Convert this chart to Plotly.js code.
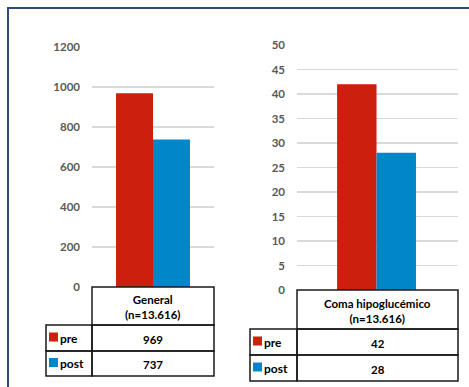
<!DOCTYPE html>
<html><head><meta charset="utf-8">
<script src="https://cdn.plot.ly/plotly-3.0.1.min.js"></script>
<style>body{margin:0;padding:0;background:#fff}#c{width:469px;height:387px}</style>
</head><body><div id="c"></div>
<script>
const series = ['pre', 'post'];
const categories1 = ['General<br>(n=13.616)'];
const pre1 = [969];
const post1 = [737];
const categories2 = ['Coma hipoglucémico<br>(n=13.616)'];
const pre2 = [42];
const post2 = [28];
const ticks1 = [0, 200, 400, 600, 800, 1000, 1200];
const ticks2 = [0, 5, 10, 15, 20, 25, 30, 35, 40, 45, 50];

const colors = {pre: '#CD1F0E', post: '#0086C9'};
const W = 469, H = 387;
const px = x => x / W, py = y => 1 - y / H;
const FONT = 'Lato, "Open Sans", sans-serif';

const w1 = 0.303, w2 = 0.245;
const traces = [
  {type: 'bar', x: categories1, y: pre1, name: series[0], width: w1, offset: -w1, marker: {color: colors.pre}, xaxis: 'x', yaxis: 'y', hoverinfo: 'none'},
  {type: 'bar', x: categories1, y: post1, name: series[1], width: w1, offset: 0, marker: {color: colors.post}, xaxis: 'x', yaxis: 'y', hoverinfo: 'none'},
  {type: 'bar', x: categories2, y: pre2, name: series[0], width: w2, offset: -w2 - 0.006, marker: {color: colors.pre}, xaxis: 'x2', yaxis: 'y2', hoverinfo: 'none'},
  {type: 'bar', x: categories2, y: post2, name: series[1], width: w2, offset: -0.006, marker: {color: colors.post}, xaxis: 'x2', yaxis: 'y2', hoverinfo: 'none'}
];

// table geometry (pixels)
const T1 = {l: 46, c: 92, r: 214, y0: 287, y1: 325, y2: 351, y3: 376};
const T2 = {l: 250, c: 297, r: 458, y0: 290, y1: 329, y2: 355, y3: 381};

const shapes = [];
const annotations = [];
function rectPx(x0, y0, x1, y1, extra) {
  return Object.assign({type: 'rect', xref: 'paper', yref: 'paper', x0: px(x0), x1: px(x1), y0: py(y0), y1: py(y1), line: {color: '#1a1a1a', width: 1.5}}, extra || {});
}
function table(T, cat, vPre, vPost) {
  shapes.push(rectPx(T.c, T.y0, T.r, T.y1));
  shapes.push(rectPx(T.l, T.y1, T.c, T.y2));
  shapes.push(rectPx(T.c, T.y1, T.r, T.y2));
  shapes.push(rectPx(T.l, T.y2, T.c, T.y3));
  shapes.push(rectPx(T.c, T.y2, T.r, T.y3));
  const k = 9;
  [[T.y1, T.y2, colors.pre, series[0]], [T.y2, T.y3, colors.post, series[1]]].forEach(([a, b, col, name]) => {
    const m = (a + b) / 2;
    shapes.push(rectPx(T.l + 3, m - k / 2 - 1, T.l + 3 + k, m + k / 2 - 1, {fillcolor: col, line: {width: 0}}));
    annotations.push({xref: 'paper', yref: 'paper', x: px(T.l + 3 + k), y: py(m), xanchor: 'left', yanchor: 'middle', showarrow: false, text: '<b>' + name + '</b>', font: {family: FONT, size: 12, color: '#000'}});
  });
  const cx = px((T.c + T.r) / 2);
  annotations.push({xref: 'paper', yref: 'paper', x: cx, y: py((T.y0 + T.y1) / 2 + 1), xanchor: 'center', yanchor: 'middle', showarrow: false, text: '<b>' + cat + '</b>', font: {family: FONT, size: 11.5, color: '#000'}});
  annotations.push({xref: 'paper', yref: 'paper', x: cx, y: py((T.y1 + T.y2) / 2 + 1), xanchor: 'center', yanchor: 'middle', showarrow: false, text: '<b>' + vPre + '</b>', font: {family: FONT, size: 11.5, color: '#000'}});
  annotations.push({xref: 'paper', yref: 'paper', x: cx, y: py((T.y2 + T.y3) / 2 + 1), xanchor: 'center', yanchor: 'middle', showarrow: false, text: '<b>' + vPost + '</b>', font: {family: FONT, size: 11.5, color: '#000'}});
}
table(T1, categories1[0], pre1[0], post1[0]);
table(T2, categories2[0], pre2[0], post2[0]);

// outer frame
shapes.push({type: 'rect', xref: 'paper', yref: 'paper', x0: px(8), x1: px(475), y0: py(395), y1: py(8), line: {color: '#2E4A7A', width: 2}});

const tickFont = {family: FONT, size: 11.5, color: '#595959'};
const yax = (dom, rng, ticks) => ({domain: dom, range: rng, tickvals: ticks, ticktext: ticks.map(t => '<b>' + t + '</b>'), showgrid: true, gridcolor: '#D9D9D9', gridwidth: 1.5, zeroline: false, showline: false, ticks: '', tickfont: tickFont, ticklabelstandoff: 11, fixedrange: true});
const layout = {
  width: W, height: H,
  margin: {l: 0, r: 0, t: 0, b: 0},
  paper_bgcolor: '#fff', plot_bgcolor: 'rgba(0,0,0,0)',
  showlegend: false,
  barmode: 'group',
  font: {family: FONT},
  xaxis: {domain: [px(92), px(214)], showticklabels: false, showgrid: false, zeroline: false, showline: false, ticks: '', fixedrange: true},
  yaxis: yax([py(287), py(47)], [0, 1200], ticks1),
  xaxis2: {domain: [px(297), px(458)], anchor: 'y2', showticklabels: false, showgrid: false, zeroline: false, showline: false, ticks: '', fixedrange: true},
  yaxis2: Object.assign(yax([py(290), py(45)], [0, 50], ticks2), {anchor: 'x2'}),
  shapes: shapes,
  annotations: annotations
};
Plotly.newPlot('c', traces, layout, {displayModeBar: false, staticPlot: true});
</script>
</body></html>
